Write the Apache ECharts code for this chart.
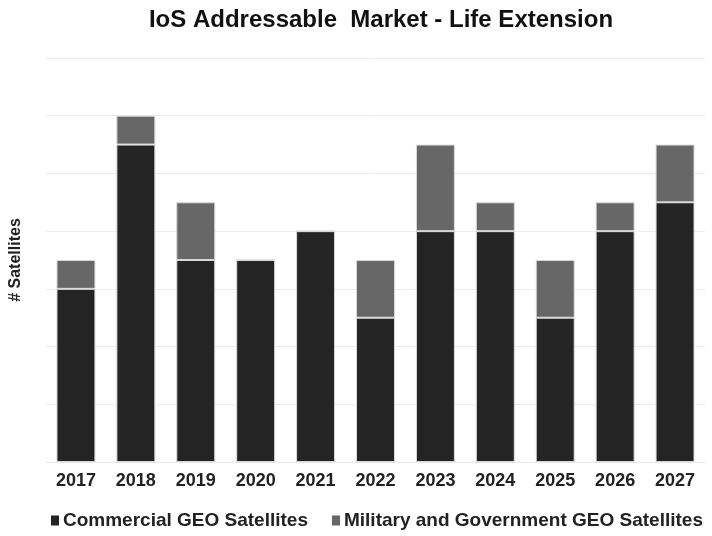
<!DOCTYPE html>
<html><head><meta charset="utf-8">
<script src="https://cdn.jsdelivr.net/npm/echarts@6/dist/echarts.min.js"></script>
<style>html,body{margin:0;padding:0;background:#fff}#c{width:712px;height:536px}</style>
</head><body><div id="c"></div>
<script>
const categories = ['2017','2018','2019','2020','2021','2022','2023','2024','2025','2026','2027'];
const commercial = [6, 11, 7, 7, 8, 5, 8, 8, 5, 8, 9];
const military = [1, 1, 2, 0, 0, 2, 3, 1, 2, 1, 2];
const seriesNames = ['Commercial GEO Satellites', 'Military and Government GEO Satellites'];
const FONT = '"Liberation Sans", Arial, sans-serif';
const chart = echarts.init(document.getElementById('c'));
chart.setOption({
  animation: false,
  backgroundColor: '#fff',
  title: {
    text: 'IoS Addressable  Market - Life Extension',
    left: 376, top: 3, textAlign: 'center',
    textStyle: {fontFamily: FONT, fontWeight: 'bold', fontSize: 24, color: '#111'}
  },
  legend: {
    top: 506, left: 46, itemWidth: 8, itemHeight: 10, itemGap: 24,
    icon: 'rect',
    itemStyle: {borderWidth: 0},
    textStyle: {fontFamily: FONT, fontWeight: 'bold', fontSize: 19, color: '#222', padding: [0,0,0,-1]},
    data: seriesNames
  },
  grid: {left: 43, right: 7, top: 58, bottom: 74, containLabel: false},
  xAxis: {
    type: 'category', data: categories,
    axisLine: {lineStyle: {color: '#e6e6e6'}}, axisTick: {show: false},
    axisLabel: {fontFamily: FONT, fontWeight: 'bold', fontSize: 18, color: '#222', margin: 10}
  },
  yAxis: {
    type: 'value', min: 0, max: 14, interval: 2,
    name: '# Satellites', nameLocation: 'middle', nameGap: 22, nameRotate: 90,
    nameTextStyle: {fontFamily: FONT, fontWeight: 'bold', fontSize: 16, color: '#222'},
    axisLabel: {show: false}, axisLine: {show: false}, axisTick: {show: false},
    splitLine: {lineStyle: {color: '#ececec', width: 1}}
  },
  series: [
    {name: seriesNames[0], type: 'bar', stack: 's', data: commercial, barWidth: '65%',
     itemStyle: {color: '#242424', borderColor: '#d8d8d8', borderWidth: 1}},
    {name: seriesNames[1], type: 'bar', stack: 's', data: military, barWidth: '65%',
     itemStyle: {color: '#676767', borderColor: '#d8d8d8', borderWidth: 1}}
  ]
});
</script></body></html>
